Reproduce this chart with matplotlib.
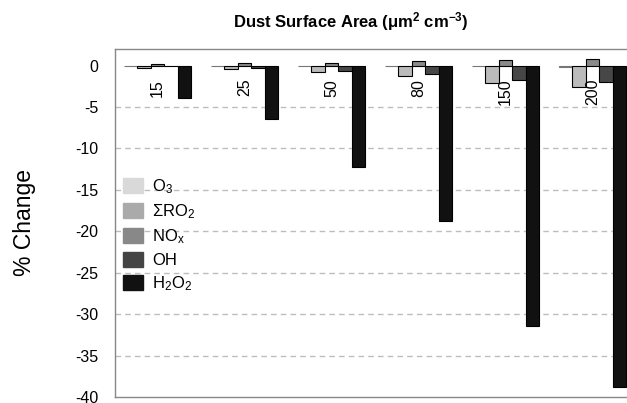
import matplotlib
matplotlib.use("Agg")
import matplotlib.pyplot as plt
import numpy as np

plt.rcParams['font.family'] = ['Liberation Sans', 'DejaVu Sans']
plt.rcParams['mathtext.fontset'] = 'custom'
plt.rcParams['mathtext.rm'] = 'Liberation Sans'
plt.rcParams['mathtext.it'] = 'Liberation Sans:italic'
plt.rcParams['mathtext.bf'] = 'Liberation Sans:bold'
plt.rcParams['axes.unicode_minus'] = False

# dust surface area categories
areas = ["15", "25", "50", "80", "150", "200"]

# % change per species
o3 = [-0.03, -0.05, -0.06, -0.08, -0.1, -0.12]
ro2 = [-0.3, -0.4, -0.8, -1.3, -2.1, -2.6]
nox = [0.2, 0.25, 0.35, 0.55, 0.7, 0.85]
oh = [-0.1, -0.35, -0.6, -1.0, -1.8, -2.0]
h2o2 = [-3.9, -6.4, -12.2, -18.8, -31.4, -38.8]

species = [r"O$_3$", r"$\Sigma$RO$_2$", r"NO$_\mathrm{x}$", "OH", r"H$_2$O$_2$"]
series = [o3, ro2, nox, oh, h2o2]
colors = ["#d9d9d9", "#bbbbbb", "#8a8a8a", "#474747", "#111111"]
legend_colors = ["#d9d9d9", "#aaaaaa", "#888888", "#444444", "#111111"]

fig = plt.figure(figsize=(6.27, 4.03), dpi=100)
ax = fig.add_axes([115 / 627, 1 - 397 / 403, 1 - 115 / 627, (397 - 49) / 403])

x = np.arange(len(areas))
w = 0.155
for k, (vals, c) in enumerate(zip(series, colors)):
    ax.bar(x + (k - 2) * w, vals, width=w, color=c,
           edgecolor="black" if k > 0 else "#777777", linewidth=0.8, zorder=3)

# legend handles (no edges)
handles = [plt.Rectangle((0, 0), 1, 1, color=c) for c in legend_colors]
fig.legend(handles, species, loc="upper left",
           bbox_to_anchor=(123 / 627, 1 - 177 / 403), frameon=False,
           fontsize=12, handlelength=1.2, handleheight=1.0,
           labelspacing=0.38, handletextpad=0.55, borderpad=0, borderaxespad=0)

# category labels, rotated, just under zero
for i, lab in enumerate(areas):
    ax.text(x[i], -1.6, lab, rotation=90, ha="center", va="top",
            fontsize=11.5, zorder=4)

ax.set_xlim(-0.489, 5.397)
ax.set_ylim(-40, 2)
ax.set_yticks(np.arange(-40, 1, 5))
ax.set_xticks([])
ax.tick_params(axis="y", length=0, pad=12, labelsize=11.5)

ax.yaxis.grid(True, color="#bdbdbd", linestyle=(0, (4, 3)), linewidth=1)
ax.set_axisbelow(True)
for val, gl in zip(ax.get_yticks(), ax.get_ygridlines()):
    if val in (0, -40):
        gl.set_visible(False)

for s in ["left", "top", "bottom"]:
    ax.spines[s].set_color("#888888")
    ax.spines[s].set_linewidth(1)
ax.spines["right"].set_visible(False)

fig.text(24 / 627, 1 - 223 / 403, "% Change", rotation=90, ha="center",
         va="center", fontsize=16.5)
fig.text(351 / 627, 1 - 22 / 403,
         r"Dust Surface Area ($\mathbf{\mu}$m$^{\mathbf{2}}$ cm$^{\mathbf{-3}}$)",
         ha="center", va="center", fontsize=12, fontweight="bold")

fig.savefig("out.png", dpi=100)
